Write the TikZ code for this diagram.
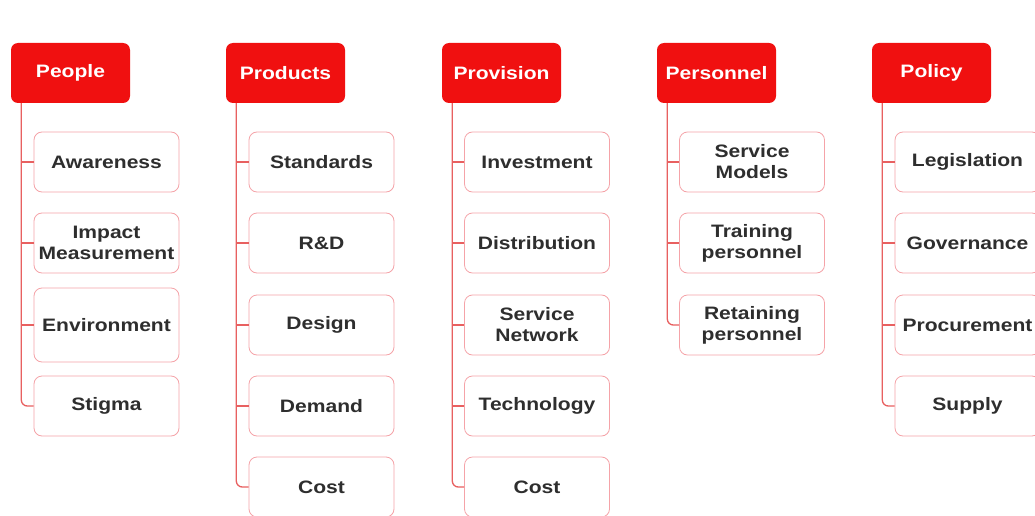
\documentclass[tikz,border=0pt]{standalone}
\usepackage{fontspec}
\setmainfont{Liberation Sans}[FakeStretch=1.17]
\definecolor{hdred}{HTML}{F01010}
\definecolor{boxpink}{HTML}{F5A3A8}
\definecolor{linered}{HTML}{E86060}
\definecolor{txtgray}{HTML}{2E2E2E}
\tikzset{
  head/.style={fill=hdred, draw=none, rounded corners=7pt, minimum width=119pt, minimum height=60pt,
    inner sep=0pt, text=white, font=\fontsize{18}{21}\selectfont\bfseries},
  item/.style={draw=boxpink, line width=0.8pt, fill=white, rounded corners=8pt, minimum width=145pt,
    minimum height=60pt, inner sep=0pt, align=center, text=txtgray, font=\fontsize{18}{21}\selectfont\bfseries},
  conn/.style={draw=linered, line width=1.3pt, rounded corners=6pt}
}
\begin{document}
\begin{tikzpicture}[x=1pt,y=-1pt]
\clip (0,0) rectangle (1035,516);
\fill[white] (0,0) rectangle (1035,516);
% headers
\node[head] (A) at (70.5,73) {People};
\node[head] (B) at (285.5,73) {Products};
\node[head] (C) at (501.5,73) {Provision};
\node[head] (D) at (716.5,73) {Personnel};
\node[head] (E) at (931.5,73) {Policy};
\foreach \h in {A,B,C,D,E}{\coordinate (\h l) at ([xshift=10.5pt]\h.south west);}
% People
\node[item] (A1) at (106.5,162) {Awareness};
\node[item] (A2) at (106.5,243) {Impact\\Measurement};
\node[item, minimum height=74pt] (A3) at (106.5,325) {Environment};
\node[item] (A4) at (106.5,406) {Stigma};
% Products
\node[item] (B1) at (321.5,162) {Standards};
\node[item] (B2) at (321.5,243) {R\&D};
\node[item] (B3) at (321.5,325) {Design};
\node[item] (B4) at (321.5,406) {Demand};
\node[item] (B5) at (321.5,487) {Cost};
% Provision
\node[item] (C1) at (537,162) {Investment};
\node[item] (C2) at (537,243) {Distribution};
\node[item] (C3) at (537,325) {Service\\Network};
\node[item] (C4) at (537,406) {Technology};
\node[item] (C5) at (537,487) {Cost};
% Personnel
\node[item] (D1) at (752,162) {Service\\Models};
\node[item] (D2) at (752,243) {Training\\personnel};
\node[item] (D3) at (752,325) {Retaining\\personnel};
% Policy
\node[item] (E1) at (967.5,162) {Legislation};
\node[item] (E2) at (967.5,243) {Governance};
\node[item] (E3) at (967.5,325) {Procurement};
\node[item] (E4) at (967.5,406) {Supply};
% connectors
\draw[conn] (Al) |- (A4.west);
\foreach \c in {A1,A2,A3}{\draw[conn] (\c.west -| Al) -- (\c.west);}
\draw[conn] (Bl) |- (B5.west);
\foreach \c in {B1,B2,B3,B4}{\draw[conn] (\c.west -| Bl) -- (\c.west);}
\draw[conn] (Cl) |- (C5.west);
\foreach \c in {C1,C2,C3,C4}{\draw[conn] (\c.west -| Cl) -- (\c.west);}
\draw[conn] (Dl) |- (D3.west);
\foreach \c in {D1,D2}{\draw[conn] (\c.west -| Dl) -- (\c.west);}
\draw[conn] (El) |- (E4.west);
\foreach \c in {E1,E2,E3}{\draw[conn] (\c.west -| El) -- (\c.west);}
\end{tikzpicture}
\end{document}
